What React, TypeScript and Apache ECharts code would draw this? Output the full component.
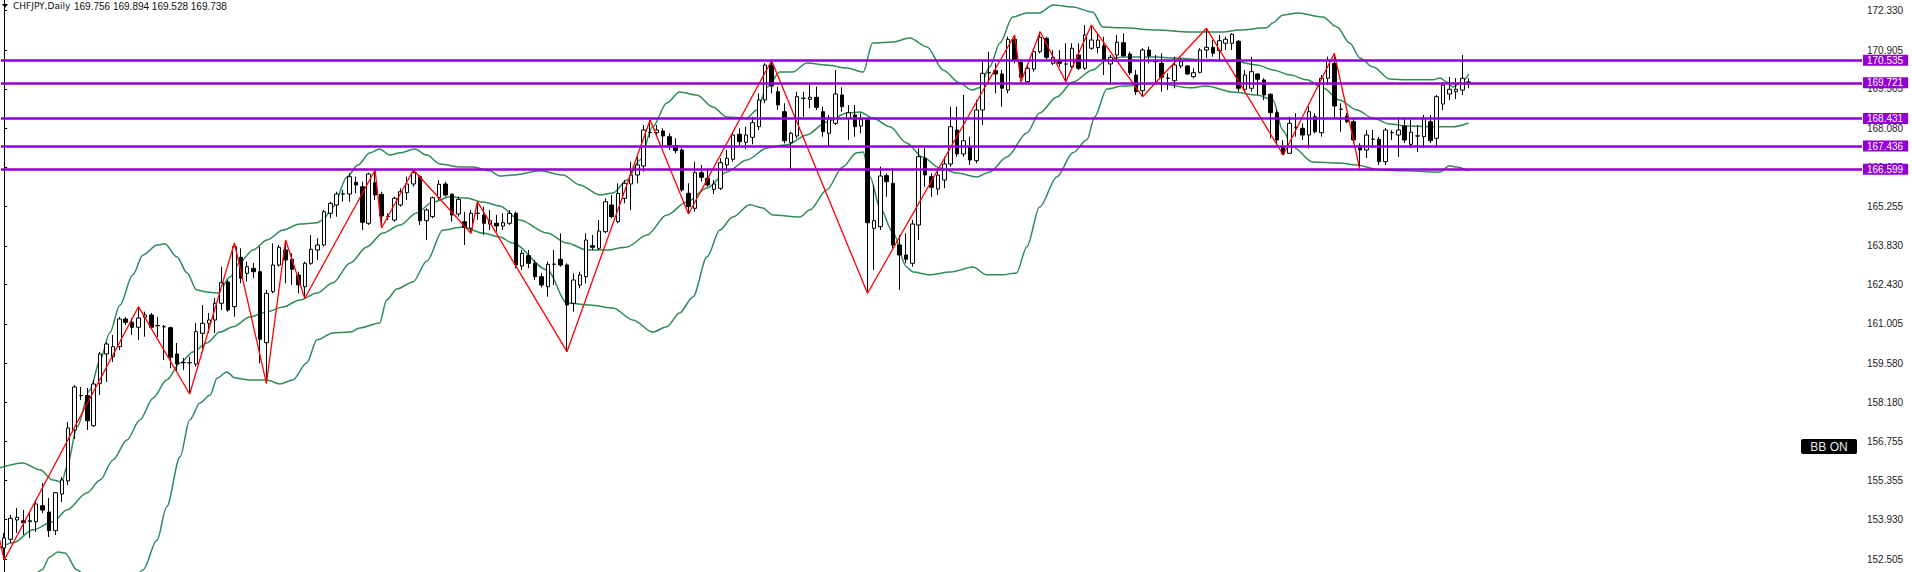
import React, { useEffect, useRef } from "react";
import * as echarts from "echarts";

// ---------- data ----------
const symbolName = "CHFJPY,Daily";
const headerValues = ["169.756", "169.894", "169.528", "169.738"];
const yTicks = [172.33, 170.905, 169.505, 168.08, 166.655, 165.255, 163.83, 162.43, 161.005, 159.58, 158.18, 156.755, 155.355, 153.93, 152.505];
const levels = [170.535, 169.721, 168.431, 167.436, 166.599];
const yMin = 152.037;
const yMax = 172.717;
const totalSlots = 291;
const buttonText = "BB ON";

// [open, high, low, close]
const candles: number[][] = [
  [152.905, 153.448, 152.471, 153.267], [153.22, 154.098, 153.086, 153.979], [153.917, 154.352, 153.448, 154.015], [153.892, 154.279, 153.375, 153.82],
  [153.856, 154.171, 153.267, 153.892], [153.856, 154.641, 153.484, 154.496], [154.434, 155.255, 154.171, 154.279], [154.207, 154.713, 153.303, 153.531],
  [153.531, 154.93, 153.375, 154.904], [154.858, 155.472, 154.568, 155.364], [155.328, 157.46, 155.183, 157.244], [157.171, 158.798, 156.846, 158.726],
  [158.41, 158.726, 158.256, 158.42], [158.411, 158.69, 157.171, 157.507], [157.327, 158.979, 157.28, 158.834], [158.86, 159.991, 158.436, 159.919],
  [159.919, 160.353, 158.907, 160.281], [159.821, 160.606, 159.63, 160.183], [160.183, 161.257, 160.063, 161.184], [161.184, 161.257, 160.967, 161.065],
  [161.065, 161.22, 160.606, 160.884], [160.884, 161.629, 160.425, 161.22], [161.246, 161.448, 160.544, 161.329], [161.329, 161.401, 160.859, 160.884],
  [160.94, 161.257, 160.533, 160.95], [160.906, 160.967, 159.702, 160.9], [160.87, 160.906, 159.402, 159.799], [159.919, 160.317, 159.279, 159.557],
  [159.604, 159.774, 159.34, 159.61], [159.6, 159.821, 158.473, 159.605], [159.557, 161.04, 159.46, 160.725], [160.667, 161.69, 160.063, 161.029],
  [161.029, 161.401, 160.678, 161.148], [161.148, 161.944, 160.678, 161.752], [161.752, 163.075, 161.509, 162.497], [162.522, 162.594, 161.448, 161.509],
  [161.629, 163.932, 161.267, 163.798], [163.415, 163.74, 162.475, 162.656], [162.836, 163.256, 162.533, 163.075], [163.017, 163.209, 162.667, 162.894],
  [162.894, 163.798, 159.583, 160.45], [160.327, 162.233, 158.86, 162.113], [162.171, 163.921, 162.113, 163.136], [163.136, 163.86, 163.075, 163.776],
  [163.679, 164.04, 162.475, 163.317], [163.342, 163.559, 162.413, 162.981], [162.775, 162.894, 162.113, 162.413], [162.352, 163.256, 161.933, 163.198],
  [163.198, 164.221, 163.136, 163.704], [163.679, 164.102, 163.317, 163.86], [163.86, 165.125, 163.798, 165.063], [165.005, 165.425, 164.825, 165.367],
  [165.306, 165.786, 164.883, 165.703], [165.7, 165.848, 165.425, 165.71], [165.703, 166.452, 165.425, 166.329], [166.126, 166.329, 165.729, 166.029],
  [165.967, 166.148, 164.402, 164.68], [164.644, 166.473, 164.583, 166.426], [166.112, 166.571, 165.486, 165.667], [165.692, 165.786, 164.474, 164.908],
  [164.883, 165.005, 164.763, 164.89], [164.763, 165.606, 164.702, 165.548], [165.306, 165.909, 165.244, 165.786], [165.75, 166.329, 165.486, 166.065],
  [166.065, 166.571, 165.967, 166.473], [166.329, 166.39, 164.583, 164.738], [164.738, 165.186, 164.04, 165.125], [164.883, 165.606, 164.825, 165.57],
  [165.57, 166.209, 165.486, 166.054], [166.065, 166.148, 165.606, 165.667], [165.692, 165.729, 164.702, 164.944], [164.98, 165.606, 164.883, 165.512],
  [164.702, 165.063, 163.86, 164.499], [164.463, 165.125, 164.282, 165.005], [165.0, 165.425, 164.763, 165.01], [164.944, 165.244, 164.221, 164.644],
  [164.619, 165.125, 164.402, 164.738], [164.644, 164.944, 164.34, 164.546], [164.546, 165.005, 164.402, 164.666], [164.644, 165.125, 164.583, 165.005],
  [165.005, 165.063, 163.017, 163.136], [163.1, 163.679, 162.956, 163.559], [163.473, 163.679, 163.017, 163.198], [163.198, 163.317, 162.594, 162.713],
  [162.713, 162.836, 162.33, 162.413], [162.352, 163.256, 161.99, 163.162], [163.16, 163.679, 162.413, 163.17], [163.342, 164.282, 163.075, 163.136],
  [163.136, 163.198, 160.002, 161.69], [161.752, 162.836, 161.448, 162.594], [162.413, 162.894, 162.294, 162.775], [162.713, 164.282, 162.475, 164.04],
  [163.834, 164.221, 163.679, 163.776], [163.74, 164.763, 163.679, 164.366], [164.34, 165.548, 164.282, 165.425], [165.306, 165.667, 164.825, 164.883],
  [164.702, 166.09, 164.644, 165.729], [165.548, 166.209, 165.367, 166.09], [166.065, 166.871, 165.125, 166.39], [166.39, 167.052, 166.09, 166.752],
  [166.716, 168.198, 166.51, 168.017], [167.92, 168.379, 167.753, 167.93], [167.92, 168.198, 167.775, 168.017], [167.981, 168.078, 167.413, 167.8],
  [167.775, 167.898, 167.294, 167.475], [167.45, 167.717, 167.175, 167.269], [167.294, 167.356, 165.786, 165.848], [165.729, 166.09, 164.98, 165.244],
  [165.186, 166.871, 165.063, 166.473], [166.473, 166.752, 166.148, 166.307], [166.271, 166.633, 165.967, 166.029], [165.873, 166.209, 165.703, 166.065],
  [165.909, 166.994, 165.848, 166.835], [166.752, 167.294, 166.571, 166.994], [166.958, 167.956, 166.871, 167.836], [167.862, 168.078, 167.475, 167.594],
  [167.572, 168.136, 167.319, 167.836], [167.753, 168.498, 167.5, 168.281], [168.136, 169.344, 168.017, 169.102], [169.102, 170.429, 168.982, 170.367],
  [170.367, 170.523, 169.344, 169.608], [169.402, 169.583, 168.74, 168.921], [168.679, 168.982, 167.536, 167.63], [167.558, 167.956, 166.571, 167.898],
  [167.8, 169.402, 167.717, 169.221], [169.16, 169.402, 168.498, 169.165], [169.127, 169.705, 168.802, 169.199], [169.199, 169.583, 168.74, 168.838],
  [168.679, 168.86, 167.775, 167.956], [167.898, 168.559, 167.413, 168.44], [168.259, 170.186, 168.198, 169.319], [169.282, 169.561, 168.679, 168.859],
  [168.44, 168.921, 167.656, 168.643], [168.559, 168.921, 167.775, 168.136], [168.162, 168.621, 167.898, 168.404], [168.379, 168.44, 162.113, 164.666],
  [164.463, 166.029, 162.956, 164.738], [164.521, 166.69, 164.402, 166.354], [166.365, 166.452, 165.606, 166.148], [166.09, 166.633, 163.74, 163.86],
  [163.86, 164.221, 162.233, 163.498], [163.498, 164.282, 163.198, 163.342], [163.198, 164.763, 163.075, 164.619], [164.583, 167.356, 164.04, 167.052],
  [166.994, 167.356, 165.967, 166.39], [166.329, 166.452, 165.606, 165.946], [165.884, 166.571, 165.667, 166.39], [166.209, 167.052, 165.909, 166.788],
  [166.788, 168.859, 166.69, 168.136], [168.017, 168.859, 167.052, 167.149], [167.149, 169.282, 167.052, 167.63], [167.413, 167.775, 166.752, 166.933],
  [166.907, 169.102, 166.813, 168.74], [168.74, 170.486, 168.198, 170.067], [170.08, 170.848, 169.705, 170.09], [170.161, 170.429, 169.344, 170.042],
  [170.042, 170.186, 168.859, 169.525], [169.463, 171.39, 169.344, 171.296], [171.296, 171.452, 170.429, 170.523], [170.465, 170.548, 169.763, 169.922],
  [169.763, 170.367, 169.727, 170.248], [170.222, 170.971, 170.125, 170.848], [170.848, 171.571, 170.79, 171.369], [171.332, 171.39, 170.548, 170.645],
  [170.429, 170.909, 170.367, 170.645], [170.512, 170.909, 170.306, 170.429], [170.4, 171.152, 169.763, 170.405], [170.306, 171.152, 170.248, 170.971],
  [170.729, 171.152, 170.186, 170.248], [170.248, 171.813, 170.186, 171.452], [170.971, 171.813, 170.909, 171.271], [170.997, 171.513, 170.79, 171.271],
  [171.065, 171.39, 170.005, 170.523], [170.403, 170.729, 169.644, 170.645], [170.729, 171.452, 170.548, 171.188], [171.173, 171.513, 170.667, 170.703],
  [170.765, 170.848, 170.005, 170.089], [170.005, 170.186, 169.282, 169.402], [169.438, 170.971, 169.221, 170.909], [170.909, 171.029, 170.429, 170.692],
  [170.49, 170.729, 169.705, 170.486], [170.429, 170.79, 169.402, 169.922], [169.886, 170.067, 169.463, 169.89], [169.799, 170.667, 169.525, 170.367],
  [170.331, 170.609, 170.248, 170.486], [170.331, 170.367, 170.005, 170.042], [169.944, 170.248, 169.886, 170.089], [170.103, 170.971, 170.067, 170.909],
  [170.909, 171.694, 170.609, 171.007], [171.007, 171.271, 170.667, 170.79], [170.884, 171.452, 170.486, 171.246], [171.152, 171.39, 170.909, 171.296],
  [171.152, 171.513, 170.909, 171.477], [171.224, 171.271, 169.402, 169.525], [169.489, 170.186, 169.402, 170.005], [169.525, 170.667, 169.402, 170.125],
  [170.042, 170.067, 169.282, 169.85], [169.825, 169.886, 169.102, 169.282], [169.308, 169.344, 167.717, 168.643], [168.643, 168.74, 167.536, 167.656],
  [167.413, 167.656, 167.113, 167.15], [167.175, 168.498, 167.15, 168.259], [168.11, 168.621, 167.775, 168.115], [168.078, 168.259, 167.656, 167.836],
  [167.836, 168.859, 167.356, 168.679], [168.498, 168.621, 167.898, 167.956], [167.92, 170.005, 167.775, 169.886], [169.886, 170.667, 169.644, 170.548],
  [170.429, 170.79, 168.44, 168.885], [168.77, 168.982, 167.956, 168.765], [168.523, 168.632, 168.27, 168.317], [168.317, 168.44, 167.536, 167.656],
  [167.45, 167.536, 166.571, 167.294], [167.294, 168.017, 167.005, 167.836], [167.68, 168.017, 167.366, 167.685], [167.681, 167.764, 166.752, 166.871],
  [166.871, 168.09, 166.752, 168.017], [167.92, 168.017, 167.656, 167.925], [167.836, 168.487, 167.041, 168.017], [168.162, 168.451, 167.547, 167.656],
  [167.5, 168.379, 167.366, 167.934], [167.8, 168.198, 167.222, 167.805], [167.775, 168.559, 167.366, 168.44], [168.317, 168.559, 167.547, 167.63],
  [167.717, 169.282, 167.366, 169.221], [168.957, 169.752, 168.74, 169.644], [169.319, 169.933, 169.102, 169.489], [169.402, 169.897, 169.138, 169.489],
  [169.463, 170.729, 169.282, 169.886], [169.756, 169.894, 169.528, 169.738],
];

// [bar index, price]
const zigzag: number[][] = [
  [-0.7, 153.19], [0, 152.471], [21, 161.629], [29, 158.473], [36, 163.932], [41, 158.86], [44, 164.04], [47, 161.933],
  [58, 166.571], [59, 164.474], [64, 166.571], [73, 164.282], [74, 165.425], [88, 160.002], [101, 168.379], [107, 164.98],
  [120, 170.523], [135, 162.113], [158, 171.452], [159, 169.763], [162, 171.571], [166, 169.763], [170, 171.813],
  [178, 169.221], [188, 171.694], [200, 167.113], [208, 170.79], [212, 166.571],
];

const bbUpper: number[][] = [
  [-0.7, 155.8], [2.9, 155.98], [5.6, 155.73], [7.6, 155.36], [9.0, 155.29], [9.8, 155.83], [11.4, 157.28], [13.4, 158.62],
  [15.0, 159.7], [16.5, 160.68], [18.1, 161.69], [20.1, 162.78], [21.7, 163.5], [23.9, 163.86], [25.1, 163.9], [27.0, 163.43],
  [28.6, 162.85], [30.1, 162.23], [31.7, 162.16], [33.4, 162.12], [35.3, 162.7], [36.9, 163.25], [38.9, 163.68], [41.1, 164.04],
  [43.6, 164.4], [46.2, 164.62], [48.9, 164.66], [49.8, 164.76], [51.4, 165.23], [53.6, 166.32], [55.3, 166.75], [57.2, 167.19],
  [58.7, 167.33], [60.3, 167.11], [61.9, 167.19], [64.2, 167.33], [66.1, 167.11], [68.1, 166.79], [71.3, 166.68], [73.3, 166.68],
  [75.9, 166.54], [77.5, 166.35], [79.5, 166.39], [83.8, 166.54], [87.4, 166.39], [90.0, 166.03], [93.1, 165.67], [95.2, 165.74],
  [97.4, 166.21], [99.4, 166.93], [101.4, 168.13], [103.6, 168.99], [105.6, 169.39], [108.3, 169.28], [110.8, 168.85], [113.0, 168.49],
  [116.1, 168.45], [117.7, 168.74], [119.3, 169.57], [121.3, 170.11], [123.3, 170.11], [125.5, 170.44], [128.6, 170.37], [131.8, 170.26],
  [134.3, 170.11], [135.8, 171.16], [139.0, 171.2], [141.6, 171.34], [144.3, 171.02], [146.8, 170.19], [149.4, 169.72], [151.3, 169.46],
  [152.5, 169.54], [154.1, 170.3], [155.7, 171.16], [157.7, 172.1], [159.9, 172.25], [161.9, 172.25], [164.0, 172.54], [167.1, 172.46],
  [170.2, 172.28], [171.8, 171.74], [174.9, 171.71], [180.2, 171.63], [185.4, 171.56], [190.5, 171.56], [193.2, 171.63], [197.4, 171.71],
  [198.4, 171.89], [199.9, 172.17], [202.3, 172.25], [206.2, 172.1], [208.4, 171.74], [210.4, 171.16], [212.0, 170.62], [214.0, 170.3],
  [216.7, 169.86], [219.3, 169.83], [223.4, 169.83], [224.5, 169.9], [225.6, 169.75], [226.5, 169.57], [227.9, 169.75], [229.0, 170.04],
];

const bbMiddle: number[][] = [
  [-0.7, 152.91], [1.4, 153.09], [4.5, 153.56], [7.6, 153.85], [9.8, 154.28], [12.9, 154.89], [15.0, 155.36], [17.0, 156.09],
  [19.2, 156.81], [21.2, 157.53], [23.3, 158.33], [25.4, 158.98], [27.5, 159.59], [29.5, 159.99], [31.7, 160.32], [33.7, 160.71],
  [35.8, 160.9], [38.4, 161.26], [41.1, 161.44], [43.6, 161.62], [46.2, 161.87], [48.9, 162.12], [51.4, 162.49], [54.1, 163.21],
  [56.7, 163.79], [59.2, 164.29], [61.9, 164.58], [64.5, 165.02], [67.0, 165.41], [69.7, 165.6], [72.3, 165.56], [74.8, 165.41],
  [77.5, 165.27], [80.6, 164.76], [84.9, 164.29], [88.0, 163.93], [91.1, 163.68], [94.2, 163.68], [97.4, 163.79], [100.5, 164.22],
  [103.6, 164.94], [106.7, 165.41], [109.9, 165.92], [113.0, 166.5], [116.1, 166.93], [119.3, 167.37], [122.4, 167.48], [125.5, 167.84],
  [128.6, 168.31], [131.8, 168.63], [133.8, 168.67], [135.8, 168.45], [138.5, 168.13], [141.1, 167.55], [143.6, 167.04], [146.3, 166.64],
  [149.0, 166.46], [152.1, 166.32], [154.1, 166.5], [156.8, 167.04], [159.9, 167.91], [161.9, 168.63], [164.6, 169.21], [167.1, 169.75],
  [170.2, 170.19], [172.4, 170.55], [174.9, 170.66], [180.2, 170.66], [182.7, 170.62], [188.0, 170.55], [192.1, 170.51], [195.9, 170.37],
  [198.4, 170.19], [201.0, 170.01], [203.7, 169.83], [206.2, 169.54], [208.8, 169.1], [211.5, 168.74], [214.0, 168.45], [216.7, 168.23],
  [219.3, 168.16], [224.5, 168.13], [226.5, 168.13], [229.0, 168.27],
];

const bbLower: number[][] = [
  [-0.7, 150.66], [2.5, 151.39], [5.9, 152.11], [7.1, 152.58], [8.4, 152.76], [9.5, 152.72], [11.4, 152.11], [15.0, 151.03],
  [18.9, 151.21], [21.7, 152.11], [23.9, 153.19], [25.4, 154.39], [27.5, 156.2], [29.0, 157.53], [30.6, 158.15], [32.2, 158.44],
  [33.3, 159.05], [34.8, 159.27], [36.1, 159.05], [38.4, 158.98], [41.1, 158.98], [43.1, 158.83], [45.1, 158.98], [47.3, 159.59],
  [48.9, 160.43], [51.4, 160.68], [54.1, 160.71], [55.6, 160.86], [58.7, 161.04], [59.8, 161.87], [61.4, 162.27], [63.9, 162.52],
  [66.1, 163.28], [68.6, 164.4], [71.7, 164.51], [74.8, 164.29], [77.5, 164.15], [79.5, 163.93], [84.9, 162.96], [88.0, 161.76],
  [91.6, 161.69], [95.2, 161.58], [98.3, 161.15], [101.4, 160.71], [103.6, 160.9], [105.6, 161.4], [107.7, 161.98], [109.9, 163.43],
  [111.9, 164.4], [113.9, 164.87], [116.6, 165.31], [118.6, 165.2], [120.2, 164.94], [124.4, 164.87], [126.0, 165.13], [128.6, 165.85],
  [131.1, 166.68], [133.3, 167.19], [134.3, 167.22], [135.4, 166.32], [136.9, 165.23], [139.0, 164.29], [141.1, 163.06], [142.1, 162.88],
  [144.7, 162.78], [147.9, 162.88], [151.5, 163.06], [153.6, 162.78], [156.1, 162.78], [158.3, 162.85], [159.9, 163.79], [161.9, 165.23],
  [164.6, 166.32], [167.1, 167.19], [169.3, 167.66], [170.5, 168.49], [172.4, 169.5], [174.9, 169.61], [180.2, 169.72], [185.4, 169.54],
  [188.0, 169.61], [192.1, 169.39], [195.9, 169.28], [198.4, 169.1], [199.9, 168.02], [201.5, 167.4], [204.6, 166.86], [208.8, 166.82],
  [211.5, 166.75], [215.1, 166.57], [219.3, 166.54], [224.5, 166.5], [226.0, 166.72], [227.1, 166.68], [229.0, 166.54],
];

// ---------- component ----------
export default function App() {
  const ref = useRef<HTMLDivElement>(null);

  useEffect(() => {
    if (!ref.current) return;
    document.body.style.margin = "0";
    const chart = echarts.init(ref.current, undefined, { renderer: "svg" });
    const categories = Array.from({ length: totalSlots }, (_, i) => String(i));
    const bandColor = "#2e8b57";
    const numFont = "Liberation Sans";

    const bandSeries = (data: number[][]) => ({
      type: "line",
      xAxisIndex: 1,
      yAxisIndex: 0,
      data,
      symbol: "none",
      smooth: 0.3,
      smoothMonotone: "x",
      silent: true,
      z: 2,
      lineStyle: { color: bandColor, width: 1.5 },
    });

    const option: any = {
      animation: false,
      backgroundColor: "#ffffff",
      grid: { left: 1, right: 50, top: 0, bottom: 0, containLabel: false },
      xAxis: [
        { type: "category", data: categories, show: false, boundaryGap: true },
        { type: "value", min: -0.5, max: totalSlots - 0.5, show: false },
      ],
      yAxis: {
        type: "value",
        position: "right",
        min: yMin,
        max: yMax,
        axisLine: { show: true, lineStyle: { color: "#000", width: 1 } },
        axisTick: { show: true, length: 3, customValues: yTicks, lineStyle: { color: "#000" } },
        axisLabel: {
          customValues: yTicks,
          formatter: (v: number) => v.toFixed(3),
          color: "#222",
          fontFamily: numFont,
          fontSize: 10,
          margin: 5,
          hideOverlap: false,
        },
        splitLine: { show: false },
      },
      series: [
        bandSeries(bbUpper),
        bandSeries(bbMiddle),
        bandSeries(bbLower),
        {
          type: "candlestick",
          xAxisIndex: 0,
          yAxisIndex: 0,
          data: candles.map(([o, h, l, c]) => [o, c, l, h]),
          barWidth: 4,
          silent: true,
          z: 3,
          itemStyle: {
            color: "#ffffff",
            color0: "#000000",
            borderColor: "#000000",
            borderColor0: "#000000",
            borderWidth: 1,
          },
        },
        {
          type: "line",
          xAxisIndex: 1,
          yAxisIndex: 0,
          data: zigzag,
          symbol: "none",
          silent: true,
          z: 4,
          lineStyle: { color: "#ff0000", width: 1.3 },
        },
        {
          type: "line",
          xAxisIndex: 1,
          yAxisIndex: 0,
          data: [],
          symbol: "none",
          silent: true,
          z: 5,
          markLine: {
            silent: true,
            animation: false,
            precision: 3,
            symbol: ["none", "none"],
            lineStyle: { color: "#9400d3", width: 2.5, type: "solid" },
            emphasis: { disabled: true },
            label: {
              show: true,
              position: "end",
              distance: 1,
              formatter: (p: any) => Number(p.value).toFixed(3),
              color: "#ffffff",
              backgroundColor: "#9400d3",
              padding: [1, 5, 0, 4],
              fontFamily: numFont,
              fontSize: 10,
              lineHeight: 10,
            },
            data: levels.map((v) => ({ yAxis: v })),
          },
        },
      ],
      graphic: [
        { type: "polygon", z: 100, shape: { points: [[2, 4], [8, 4], [5, 8]] }, style: { fill: "#000" } },
        {
          type: "text", z: 100, x: 13, y: 6,
          style: { text: symbolName, font: '9px "DejaVu Sans"', fill: "#111", verticalAlign: "middle" },
        },
        {
          type: "text", z: 100, x: 74, y: 6,
          style: { text: headerValues.join(" "), font: '10px "Liberation Sans"', fill: "#111", verticalAlign: "middle" },
        },
        { type: "rect", z: 100, shape: { x: 1801, y: 439, width: 56, height: 15, r: 2 }, style: { fill: "#000" } },
        {
          type: "text", z: 101, x: 1829, y: 447,
          style: { text: buttonText, font: '12px "Liberation Sans"', fill: "#e8e8e8", align: "center", verticalAlign: "middle" },
        },
      ],
    };

    chart.setOption(option);
    return () => chart.dispose();
  }, []);

  return (
    <div
      ref={ref}
      style={{ position: "fixed", left: 0, top: 0, width: 1912, height: 572, background: "#fff" }}
    />
  );
}
